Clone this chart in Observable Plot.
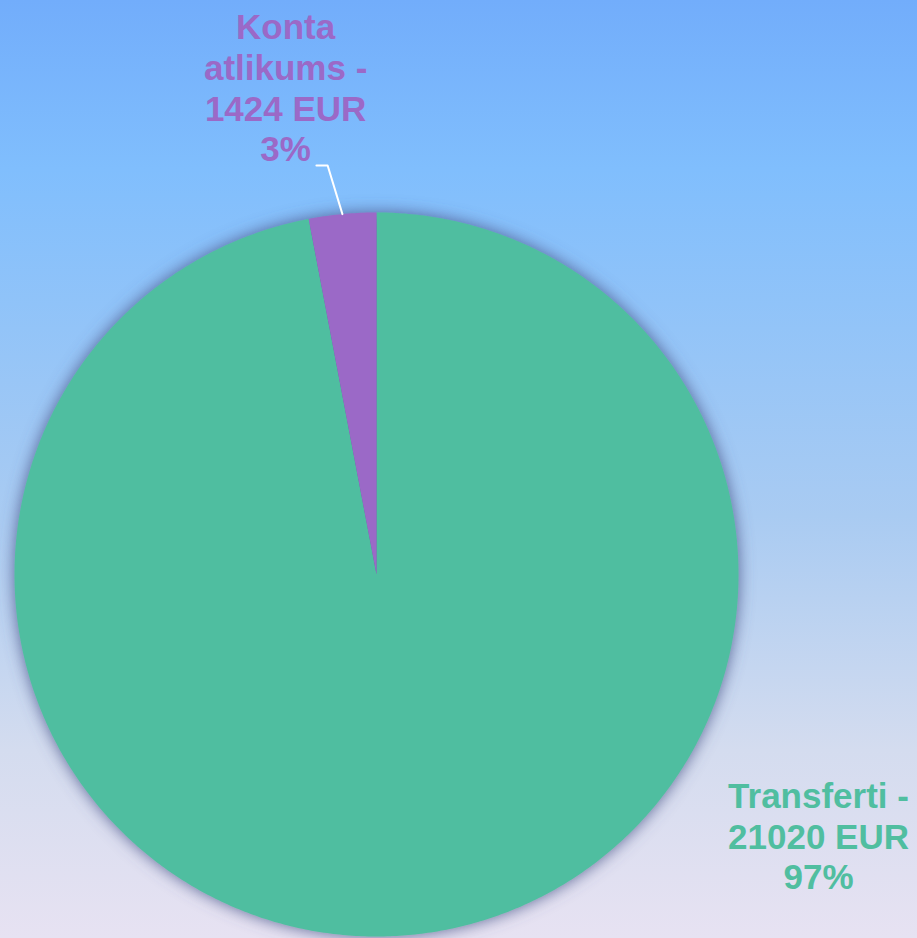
<!DOCTYPE html>
<html>
<head>
<meta charset="utf-8">
<script src="https://cdn.jsdelivr.net/npm/d3@7"></script>
<script src="https://cdn.jsdelivr.net/npm/@observablehq/plot@0.6"></script>
<style>
  html, body { margin: 0; padding: 0; background: #e6e1f2; }
  svg { display: block; }
</style>
</head>
<body>
<div id="chart"></div>
<script>
// ---- data ----
const categories = ["Transferti", "Konta atlikums"];
const amounts = [21020, 1424];          // EUR, as labelled
const percents = [97, 3];               // share, as labelled
const colors = ["#50bea0", "#9b69c7"];

// ---- layout (not data) ----
const W = 917, H = 938;
const cx = 376, cy = 574, R = 362;     // pixel centre & radius of the pie
// label anchor positions in pie-radius units (relative to centre, y up)
const labelPos = [
  {x: 1.221, y: -0.721},
  {x: -0.251, y: 1.346}
];
// leader-line elbow for the small slice (pie-radius units)
const leaderElbow = [{x: -0.166, y: 1.130}, {x: -0.135, y: 1.130}];

// ---- build slices with d3.pie ----
const pie = d3.pie().sort(null).value(d => d.pct).startAngle(0).endAngle(2 * Math.PI);
const rows = categories.map((c, i) => ({name: c, amount: amounts[i], pct: percents[i]}));
const arcs = pie(rows);

const outline = [];
arcs.forEach(a => {
  const name = a.data.name;
  outline.push({name, x: 0, y: 0});
  const steps = Math.max(2, Math.ceil((a.endAngle - a.startAngle) / (Math.PI / 360)));
  for (let k = 0; k <= steps; k++) {
    const t = a.startAngle + (a.endAngle - a.startAngle) * k / steps;
    outline.push({name, x: Math.sin(t), y: Math.cos(t)});
  }
  outline.push({name, x: 0, y: 0});
});

const labels = arcs.map((a, i) => ({
  name: a.data.name,
  text: (a.data.name === "Transferti"
    ? `${a.data.name} -\n${a.data.amount} EUR\n${a.data.pct}%`
    : `Konta\natlikums -\n${a.data.amount} EUR\n${a.data.pct}%`),
  x: labelPos[i].x, y: labelPos[i].y
}));

// leader line for the small slice: ends on its arc midpoint
const small = arcs[1];
const mid = (small.startAngle + small.endAngle) / 2;
const leader = [...leaderElbow, {x: Math.sin(mid), y: Math.cos(mid)}];

const chart = Plot.plot({
  width: W, height: H,
  margin: 0,
  x: {domain: [-cx / R, (W - cx) / R], range: [0, W], axis: null},
  y: {domain: [-(H - cy) / R, cy / R], range: [H, 0], axis: null},
  color: {domain: categories, range: colors},
  style: {
    background: "linear-gradient(to bottom, #72adfb 0%, #80befd 18%, #a9cbf2 55%, #d4dcef 80%, #e7e2f2 100%)",
    fontFamily: "'Liberation Sans', Arial, sans-serif"
  },
  marks: [
    Plot.line(outline, {x: "x", y: "y", z: "name", fill: "name", stroke: "none", curve: "linear"}),
    Plot.line(leader, {x: "x", y: "y", stroke: "white", strokeWidth: 2, curve: "linear"}),
    Plot.text(labels, {
      x: "x", y: "y", text: "text", fill: "name",
      fontSize: 35, fontWeight: "bold", lineHeight: 1.16,
      textAnchor: "middle", lineAnchor: "middle"
    })
  ]
});

// soft shadow around the pie
const ns = "http://www.w3.org/2000/svg";
const defs = document.createElementNS(ns, "defs");
defs.innerHTML = `<filter id="pieShadow" x="-10%" y="-10%" width="120%" height="120%">
  <feDropShadow dx="0" dy="0" stdDeviation="8" flood-color="#4d5a8c" flood-opacity="0.9"/>
</filter>`;
chart.insertBefore(defs, chart.firstChild);
const pieGroup = chart.querySelector('g[aria-label="line"]');
if (pieGroup) pieGroup.setAttribute("filter", "url(#pieShadow)");

document.getElementById("chart").appendChild(chart);
</script>
</body>
</html>
